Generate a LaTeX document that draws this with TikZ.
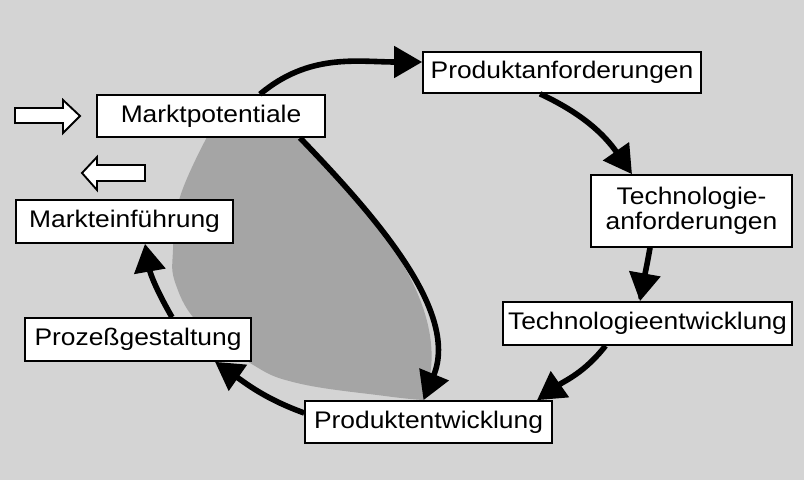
\documentclass[tikz,border=0pt]{standalone}
\usepackage{fontspec}
\setmainfont{Liberation Sans}[FakeStretch=1.1]
\usetikzlibrary{arrows.meta}
\definecolor{bgcol}{RGB}{212,212,212}
\definecolor{shadecol}{RGB}{165,165,165}
\begin{document}
\begin{tikzpicture}[x=0.75pt,y=0.75pt,
  box/.style={draw=black,line width=1.2pt,fill=white,inner sep=0pt,align=center,
    font=\fontsize{18pt}{19pt}\selectfont},
  flow/.style={line width=4.2pt,-{Triangle[length=21pt,width=23pt]}},
  hollow/.style={draw=black,line width=1.4pt,fill=white,line join=miter}]
\useasboundingbox (0,0) rectangle (804,480);
\fill[bgcol] (0,0) rectangle (804,480);
% shaded lens
\fill[shadecol] (207,343) -- (300,343) .. controls (370,270) and (460,170) .. (423,80)
  -- plot[smooth,tension=0.7] coordinates {(423,80) (385,84) (297,97) (250,117) (200,155) (176,195) (173,230) (180,283) (207,343)} -- cycle;
% hollow arrows
\draw[hollow] (15,372) -- (63,372) -- (63,380) -- (80,364) -- (63,347) -- (63,357) -- (15,357) -- cycle;
\draw[hollow] (145,315) -- (97,315) -- (97,323) -- (82,307) -- (97,290) -- (97,299) -- (145,299) -- cycle;
% boxes
\node[box,minimum width=171pt,minimum height=31.5pt] (mp) at (211,364) {Marktpotentiale};
\node[box,minimum width=162.75pt,minimum height=32.25pt] (mi) at (124.5,258.5) {Markteinführung};
\node[box,minimum width=208.5pt,minimum height=30.75pt] (pa) at (562,407.5) {Produktanforderungen};
\node[box,minimum width=150.75pt,minimum height=54pt] (tap) at (691.5,269) {Technologie-\\anforderungen};
\node[box,minimum width=216.75pt,minimum height=32.25pt] (ten) at (647.5,156.5) {Technologieentwicklung};
\node[box,minimum width=185.25pt,minimum height=31.5pt] (pe) at (428.5,58) {Produktentwicklung};
\node[box,minimum width=169.5pt,minimum height=32.25pt] (ps) at (138,140.5) {Prozeßgestaltung};
% cycle arrows
\draw[flow] ([shift={(49,0)}]mp.north) to[out=40,in=180] ([shift={(0,10.5)}]pa.west);
\draw[flow] ([shift={(-22,0)}]pa.south) to[out=-25,in=125] ([shift={(-59.5,0)}]tap.north);
\draw[flow] ([shift={(-41.5,0)}]tap.south) to[out=-100,in=80] ([shift={(-7.5,0)}]ten.north);
\draw[flow] ([shift={(-42,0)}]ten.south) to[out=-128,in=35] ([shift={(108.5,0)}]pe.north);
\draw[flow] ([shift={(0,9)}]pe.west) to[out=160,in=-35] ([shift={(77,0)}]ps.south);
\draw[flow] ([shift={(34,0)}]ps.north) to[out=120,in=-80] ([shift={(20.5,0)}]mi.south);
\draw[flow] ([shift={(89,0)}]mp.south) .. controls +(70,-73) and +(37,90) .. ([shift={(-5,0)}]pe.north);
\end{tikzpicture}
\end{document}
